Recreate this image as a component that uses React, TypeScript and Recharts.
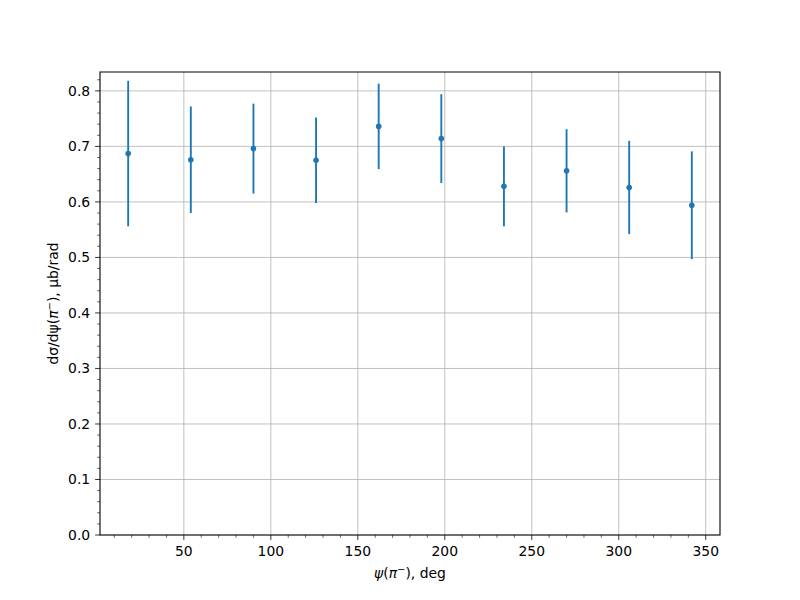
import React from 'react';
import { ComposedChart, Scatter, XAxis, YAxis, CartesianGrid, ErrorBar, ReferenceArea } from 'recharts';

const psiDeg = [18, 54, 90, 126, 162, 198, 234, 270, 306, 342];
const xsec = [0.687, 0.676, 0.696, 0.675, 0.736, 0.714, 0.628, 0.656, 0.626, 0.594];
const xsecErr = [0.131, 0.096, 0.081, 0.077, 0.077, 0.080, 0.072, 0.075, 0.084, 0.097];

const xMajor = [50, 100, 150, 200, 250, 300, 350];
const xAll = [10, 20, 30, 40, 50, 60, 70, 80, 90, 100, 110, 120, 130, 140, 150, 160, 170, 180, 190, 200, 210, 220, 230, 240, 250, 260, 270, 280, 290, 300, 310, 320, 330, 340, 350];
const yMajor = [0, 0.1, 0.2, 0.3, 0.4, 0.5, 0.6, 0.7, 0.8];
const yAll = [0, 0.02, 0.04, 0.06, 0.08, 0.1, 0.12, 0.14, 0.16, 0.18, 0.2, 0.22, 0.24, 0.26, 0.28, 0.3, 0.32, 0.34, 0.36, 0.38, 0.4, 0.42, 0.44, 0.46, 0.48, 0.5, 0.52, 0.54, 0.56, 0.58, 0.6, 0.62, 0.64, 0.66, 0.68, 0.7, 0.72, 0.74, 0.76, 0.78, 0.8, 0.82];

const xDomain: [number, number] = [1.8, 358.2];
const yDomain: [number, number] = [0, 0.834];

const data = psiDeg.map((x, i) => ({ x, y: xsec[i], err: xsecErr[i] }));

const FONT = 'DejaVu Sans, sans-serif';
const BLUE = '#1f77b4';

const isMajor = (v: number, list: number[]) => list.some((m) => Math.abs(m - v) < 1e-6);

const XTick = (props: any) => {
  const { x, y, payload } = props;
  const v = payload.value;
  const major = isMajor(v, xMajor);
  return (
    <g>
      <line x1={x} x2={x} y1={y} y2={y + (major ? 4.9 : 2.8)} stroke="#000" strokeWidth={major ? 0.8 : 0.6} />
      {major && (
        <text x={x} y={y + 20.5} textAnchor="middle" fontFamily={FONT} fontSize={13.9} fill="#000">
          {v}
        </text>
      )}
    </g>
  );
};

const YTick = (props: any) => {
  const { x, y, payload } = props;
  const v = payload.value;
  const major = isMajor(v, yMajor);
  return (
    <g>
      <line x1={x} x2={x - (major ? 4.9 : 2.8)} y1={y} y2={y} stroke="#000" strokeWidth={major ? 0.8 : 0.6} />
      {major && (
        <text x={x - 9.8} y={y + 5} textAnchor="end" fontFamily={FONT} fontSize={13.9} fill="#000">
          {v.toFixed(1)}
        </text>
      )}
    </g>
  );
};

const Dot = (props: any) => {
  const { cx, cy } = props;
  return <circle cx={cx} cy={cy} r={2.8} fill={BLUE} />;
};

const XLabel = (props: any) => {
  const vb = props.viewBox;
  return (
    <text x={vb.x + vb.width / 2} y={vb.y + 43} textAnchor="middle" fontFamily={FONT} fontSize={13.9} fill="#000">
      <tspan fontStyle="italic">ψ</tspan>
      <tspan>(</tspan>
      <tspan fontStyle="italic">π</tspan>
      <tspan dy={-5} fontSize={10}>−</tspan>
      <tspan dy={5}>), deg</tspan>
    </text>
  );
};

const YLabel = (props: any) => {
  const vb = props.viewBox;
  const cx = vb.x + vb.width - 42;
  const cy = vb.y + vb.height / 2;
  return (
    <text x={cx} y={cy} transform={`rotate(-90, ${cx}, ${cy})`} textAnchor="middle" fontFamily={FONT} fontSize={13.9} fill="#000">
      <tspan>dσ/dψ(</tspan>
      <tspan fontStyle="italic">π</tspan>
      <tspan dy={-5} fontSize={10}>−</tspan>
      <tspan dy={5}>), μb/rad</tspan>
    </text>
  );
};

export default function App() {
  return (
    <div style={{ position: 'absolute', left: 0, top: 0, width: 800, height: 600, background: '#fff' }}>
      <ComposedChart width={800} height={600} data={data} margin={{ top: 72, right: 80, bottom: 25, left: 40 }}>
        <CartesianGrid horizontalValues={yMajor} verticalValues={xMajor} stroke="#b0b0b0" strokeWidth={0.8} />
        <XAxis
          type="number"
          dataKey="x"
          domain={xDomain}
          allowDataOverflow
          ticks={xAll}
          interval={0}
          tick={<XTick />}
          tickLine={false}
          tickSize={0}
          tickMargin={0}
          height={40}
          axisLine={false}
          label={<XLabel />}
        />
        <YAxis
          type="number"
          dataKey="y"
          domain={yDomain}
          allowDataOverflow
          ticks={yAll}
          interval={0}
          tick={<YTick />}
          tickLine={false}
          tickSize={0}
          tickMargin={0}
          width={60}
          axisLine={false}
          label={<YLabel />}
        />
        <ReferenceArea x1={xDomain[0]} x2={xDomain[1]} y1={yDomain[0]} y2={yDomain[1]} fill="none" fillOpacity={0} stroke="#000" strokeWidth={1.1} strokeOpacity={1} ifOverflow="visible" />
        <Scatter dataKey="y" fill={BLUE} shape={<Dot />} isAnimationActive={false}>
          <ErrorBar dataKey="err" direction="y" width={0} stroke={BLUE} strokeWidth={1.9} isAnimationActive={false} />
        </Scatter>
      </ComposedChart>
    </div>
  );
}
